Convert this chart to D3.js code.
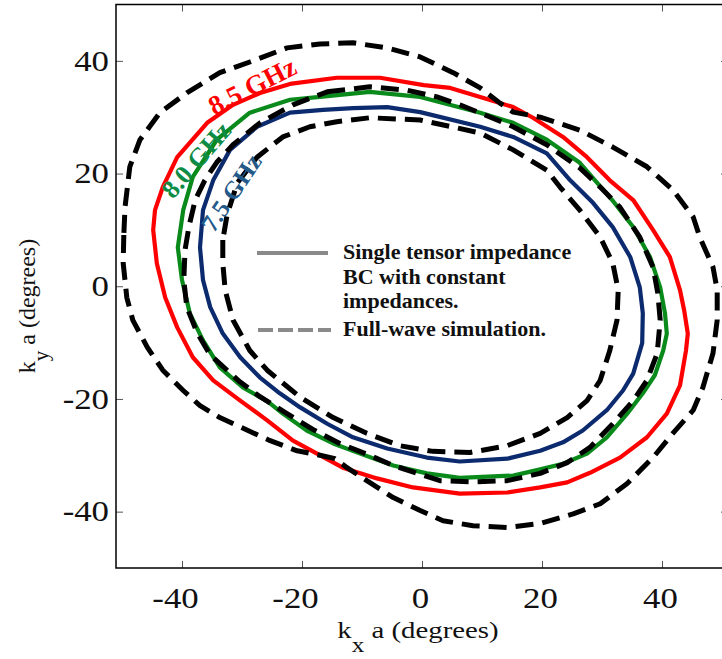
<!DOCTYPE html>
<html>
<head>
<meta charset="utf-8">
<script src="https://cdn.jsdelivr.net/npm/d3@7"></script>
<style>
  body { margin: 0; background: #fff; }
  svg { display: block; font-family: 'Liberation Serif', 'Times New Roman', serif; }
</style>
</head>
<body>
<svg id="chart" width="722" height="659"></svg>
<script>
const xTicks = [-40, -20, 0, 20, 40];
const yTicks = [-40, -20, 0, 20, 40];
const xDomain = [-51, 51];
const yDomain = [-50, 50];

// single tensor impedance BC, [kx a, ky a] in degrees
const tensor85 = [
  [-44.8, 10.0], [-44.2, 4.1], [-42.8, -2.0], [-40.8, -7.3], [-38.2, -12.6], [-34.8, -16.7],
  [-30.3, -20.3], [-25.8, -23.8], [-21.5, -27.4], [-17.5, -29.7], [-13.2, -32.2], [-7.5, -34.1],
  [-1.5, -35.7], [6.3, -36.8], [14.2, -36.6], [19.7, -35.7], [24.2, -34.8], [28.0, -33.1],
  [33.0, -30.4], [37.5, -26.8], [40.8, -22.6], [43.0, -17.6], [44.0, -11.4], [44.3, -8.4],
  [43.7, -4.3], [43.0, -0.7], [41.3, 5.2], [38.5, 10.0], [35.2, 15.3], [31.3, 18.8],
  [27.5, 22.9], [23.5, 26.5], [18.5, 29.9], [15.2, 31.8], [9.7, 33.6], [4.7, 35.2],
  [0.3, 35.7], [-7.0, 37.0], [-14.2, 37.0], [-22.0, 35.9], [-27.0, 34.3], [-31.5, 32.2],
  [-35.8, 29.0], [-40.8, 22.9], [-43.2, 17.6], [-44.5, 13.5]
];
const tensor80 = [
  [-40.7, 6.9], [-40.0, 1.1], [-38.7, -4.8], [-36.5, -9.6], [-33.7, -14.4], [-29.8, -18.0],
  [-25.8, -20.4], [-23.2, -22.6], [-19.2, -25.6], [-14.8, -27.9], [-10.3, -29.7], [-4.8, -31.8],
  [0.8, -33.2], [6.3, -34.0], [15.2, -33.6], [19.7, -32.5], [23.5, -31.5], [27.5, -29.7],
  [30.8, -26.8], [34.2, -22.6], [36.8, -19.0], [38.8, -15.8], [40.2, -11.4], [40.8, -8.4],
  [40.5, -4.8], [39.7, -0.2], [38.0, 5.2], [35.2, 10.5], [31.7, 15.3], [26.3, 21.9],
  [20.8, 26.0], [15.2, 29.0], [9.7, 30.8], [-0.3, 33.6], [-8.7, 34.5], [-17.0, 33.6],
  [-22.0, 33.1], [-28.7, 30.8], [-34.2, 26.0], [-38.2, 19.4], [-39.8, 13.5]
];
const tensor75 = [
  [-37.0, 6.9], [-36.5, 1.1], [-35.3, -3.7], [-33.2, -8.4], [-30.3, -12.6], [-27.0, -16.2],
  [-23.7, -19.0], [-20.3, -21.5], [-15.8, -24.4], [-11.5, -26.8], [-5.8, -28.8], [0.8, -30.4],
  [6.3, -31.1], [14.2, -30.6], [19.7, -29.2], [23.5, -27.7], [26.8, -25.6], [30.8, -22.0],
  [33.5, -18.5], [35.2, -15.5], [36.7, -10.1], [36.8, -4.8], [36.3, -0.2], [34.7, 5.2],
  [31.8, 10.5], [28.5, 14.8], [24.7, 18.8], [20.8, 23.6], [15.2, 26.5], [9.7, 28.3],
  [-0.3, 30.9], [-5.8, 31.8], [-11.5, 31.6], [-16.5, 31.3], [-22.0, 30.8], [-27.5, 28.3],
  [-32.0, 24.2], [-34.8, 18.8], [-36.5, 13.5]
];

// full-wave simulation
const fullOuter = [
  [-49.7, 9.1], [-49.8, 4.1], [-49.2, -2.0], [-48.2, -6.0], [-45.8, -10.8], [-43.2, -14.9],
  [-39.8, -18.5], [-37.0, -21.2], [-33.7, -23.3], [-29.8, -25.2], [-25.3, -27.4], [-20.8, -29.2],
  [-17.0, -30.0], [-14.5, -30.6], [-12.5, -32.2], [-9.2, -34.5], [-4.8, -37.5], [-0.3, -39.8],
  [3.5, -41.6], [8.5, -42.5], [14.2, -42.8], [19.7, -42.1], [25.2, -40.4], [29.7, -38.6],
  [34.2, -35.0], [38.5, -30.4], [41.8, -26.1], [45.2, -22.0], [46.8, -18.0], [48.5, -11.9],
  [49.2, -6.0], [49.2, -0.7], [48.5, 3.4], [46.3, 8.7], [45.2, 12.3], [41.8, 17.1],
  [37.5, 21.2], [31.8, 24.7], [26.3, 27.7], [19.7, 30.0], [15.2, 30.9], [13.0, 32.5],
  [9.7, 35.2], [5.2, 37.9], [-0.3, 40.7], [-5.8, 42.3], [-11.5, 43.2], [-17.0, 43.0],
  [-22.5, 42.3], [-28.7, 39.8], [-33.7, 37.9], [-39.2, 34.3], [-43.7, 30.8], [-47.0, 26.0],
  [-48.7, 21.2], [-49.5, 14.0]
];
const fullMiddle = [
  [-15.8, 34.5], [-8.7, 35.4], [-2.5, 34.8], [2.5, 33.6], [6.3, 32.2], [10.5, 30.4],
  [15.2, 28.3], [20.8, 25.1], [26.3, 21.0], [29.7, 17.6], [33.0, 14.0], [36.3, 8.7],
  [38.5, 3.4], [39.3, -1.2], [39.7, -6.0], [39.2, -11.9], [37.5, -16.7], [35.2, -20.3],
  [31.8, -24.4], [28.0, -28.6], [24.2, -31.3], [19.7, -33.2], [14.2, -34.5], [8.5, -34.7],
  [3.0, -34.5], [-4.8, -31.8], [-9.2, -29.8], [-13.7, -27.9], [-18.2, -25.4], [-22.5, -22.6],
  [-27.0, -19.6], [-30.3, -17.0], [-35.3, -12.2], [-37.5, -8.2], [-39.2, -3.7], [-39.7, 1.1],
  [-39.5, 6.4], [-38.8, 10.8], [-37.8, 15.3], [-36.2, 18.8], [-34.2, 22.0], [-31.5, 25.1],
  [-27.0, 29.0], [-21.5, 32.2]
];
const fullInner = [
  [-33.2, 8.2], [-33.2, 4.1], [-32.8, -0.7], [-31.5, -6.0], [-28.7, -11.4], [-25.8, -14.9],
  [-20.3, -19.7], [-14.8, -23.3], [-9.2, -26.1], [-3.7, -28.3], [1.8, -29.3], [8.0, -29.5],
  [14.2, -28.3], [19.7, -26.1], [24.2, -23.3], [27.5, -20.3], [29.7, -16.7], [31.3, -11.4],
  [32.5, -6.0], [32.7, -0.7], [31.8, 4.1], [29.7, 8.7], [26.3, 13.5], [23.0, 17.6],
  [20.8, 20.6], [15.2, 24.2], [9.7, 27.2], [-0.3, 29.5], [-8.7, 29.9], [-14.2, 29.2],
  [-18.7, 28.3], [-23.2, 26.5], [-27.5, 22.9], [-30.8, 18.3], [-32.5, 12.6]
];

const curveLabels = ['8.5 GHz', '8.0 GHz', '7.5 GHz'];
const legendLabels = [['Single tensor impedance', 'BC with constant', 'impedances.'], ['Full-wave simulation.']];

const series = [
  { data: tensor85, color: '#ff0000', dashed: false },
  { data: tensor80, color: '#0a8a1a', dashed: false },
  { data: tensor75, color: '#0c2a6e', dashed: false },
  { data: fullOuter, color: '#000', dashed: true },
  { data: fullMiddle, color: '#000', dashed: true },
  { data: fullInner, color: '#000', dashed: true },
];

const svg = d3.select('#chart');
const x = d3.scaleLinear().domain(xDomain).range([116, 728]);
const y = d3.scaleLinear().domain(yDomain).range([568, 4.5]);
const stretch = 1.2; // figure text is a bit wider than the font
const serif = "'Liberation Serif', 'Times New Roman', serif";

svg.append('defs').append('clipPath').attr('id', 'plot')
  .append('rect')
  .attr('x', x(xDomain[0])).attr('y', y(yDomain[1]))
  .attr('width', x(xDomain[1]) - x(xDomain[0]))
  .attr('height', y(yDomain[0]) - y(yDomain[1]));

const line = d3.line()
  .x((d) => x(d[0]))
  .y((d) => y(d[1]))
  .curve(d3.curveLinearClosed);

svg.append('g')
  .attr('clip-path', 'url(#plot)')
  .selectAll('path')
  .data(series)
  .join('path')
  .attr('d', (d) => line(d.data))
  .attr('fill', 'none')
  .attr('stroke', (d) => d.color)
  .attr('stroke-width', (d) => (d.dashed ? 5 : 4.2))
  .attr('stroke-dasharray', (d) => (d.dashed ? '18,9' : null))
  .attr('stroke-linejoin', 'round');

// frequency labels along the solid curves
const labelPos = [
  { x: -28.3, y: 35.5, angle: -27, color: '#ff0000', size: 27 },
  { x: -37.6, y: 22.4, angle: -49, color: '#0e8c46', size: 26 },
  { x: -31.8, y: 16.6, angle: -56, color: '#245a8a', size: 25 },
];
svg.append('g')
  .selectAll('text')
  .data(curveLabels)
  .join('text')
  .attr('transform', (d, i) => `translate(${x(labelPos[i].x)},${y(labelPos[i].y)}) rotate(${labelPos[i].angle})`)
  .attr('text-anchor', 'middle')
  .attr('dominant-baseline', 'central')
  .attr('fill', (d, i) => labelPos[i].color)
  .attr('font-size', (d, i) => labelPos[i].size)
  .attr('font-weight', 'bold')
  .attr('font-family', serif)
  .text((d) => d);

// axes, ticks inside on all four sides
function styleAxis(g) {
  g.select('.domain').remove();
  g.selectAll('.tick line').attr('stroke', '#555').attr('stroke-width', 1);
  g.selectAll('.tick text')
    .attr('fill', '#111')
    .attr('font-size', 29)
    .attr('font-family', serif);
}

svg.append('g')
  .attr('transform', `translate(0,${y(yDomain[0])})`)
  .call(d3.axisBottom(x).tickValues(xTicks).tickSizeInner(-7).tickSizeOuter(0).tickPadding(19)
    .tickFormat((d) => String(d)))
  .call(styleAxis)
  .call((g) => g.selectAll('.tick text')
    .attr('transform', `scale(${stretch},1)`)
    .attr('x', (d) => (d < 0 ? -7 : -2) / stretch));

svg.append('g')
  .attr('transform', `translate(${x(xDomain[0])},0)`)
  .call(d3.axisLeft(y).tickValues(yTicks).tickSizeInner(-7).tickSizeOuter(0).tickPadding(7)
    .tickFormat((d) => String(d)))
  .call(styleAxis)
  .call((g) => g.selectAll('.tick text')
    .attr('transform', `scale(${stretch},1)`)
    .attr('x', -7 / stretch));

svg.append('g')
  .attr('transform', `translate(0,${y(yDomain[1])})`)
  .call(d3.axisTop(x).tickValues(xTicks).tickSizeInner(-7).tickSizeOuter(0).tickFormat(''))
  .call(styleAxis);

svg.append('g')
  .attr('transform', `translate(${x(xDomain[1])},0)`)
  .call(d3.axisRight(y).tickValues(yTicks).tickSizeInner(-7).tickSizeOuter(0).tickFormat(''))
  .call(styleAxis);

svg.append('rect')
  .attr('x', x(xDomain[0])).attr('y', y(yDomain[1]))
  .attr('width', x(xDomain[1]) - x(xDomain[0]))
  .attr('height', y(yDomain[0]) - y(yDomain[1]))
  .attr('fill', 'none')
  .attr('stroke', '#000')
  .attr('stroke-width', 1.5);

// axis titles
const xTitle = svg.append('g')
  .attr('transform', `translate(418,638) scale(${stretch},1)`)
  .append('text')
  .attr('text-anchor', 'middle')
  .attr('font-size', 24)
  .attr('font-family', serif)
  .attr('fill', '#111');
xTitle.append('tspan').text('k');
xTitle.append('tspan').attr('dy', 14).attr('font-size', 21).text('x');
xTitle.append('tspan').attr('dy', -14).text(' a (degrees)');

const yTitle = svg.append('g')
  .attr('transform', 'translate(35,306) rotate(-90)')
  .append('text')
  .attr('text-anchor', 'middle')
  .attr('font-size', 24)
  .attr('font-family', serif)
  .attr('fill', '#111');
yTitle.append('tspan').text('k');
yTitle.append('tspan').attr('dy', 13).attr('font-size', 21).text('y');
yTitle.append('tspan').attr('dy', -13).text(' a (degrees)');

// legend
const legend = svg.append('g');
legend.append('line')
  .attr('x1', 257).attr('x2', 328).attr('y1', 253).attr('y2', 253)
  .attr('stroke', '#8a8a8a').attr('stroke-width', 4);
legend.append('line')
  .attr('x1', 258).attr('x2', 331).attr('y1', 330).attr('y2', 330)
  .attr('stroke', '#8a8a8a').attr('stroke-width', 4)
  .attr('stroke-dasharray', '15,5');
const legendRows = [...legendLabels[0], ...legendLabels[1]];
const legendBase = [259, 284, 308, 336];
legend.selectAll('text')
  .data(legendRows)
  .join('text')
  .attr('x', 343)
  .attr('y', (d, i) => legendBase[i])
  .attr('font-size', 22)
  .attr('font-weight', 'bold')
  .attr('font-family', serif)
  .attr('fill', '#111')
  .text((d) => d);
</script>
</body>
</html>
